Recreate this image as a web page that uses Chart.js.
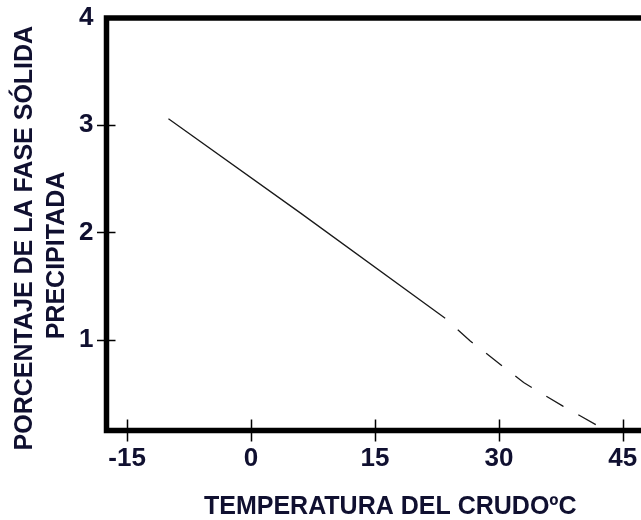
<!DOCTYPE html>
<html>
<head>
<meta charset="utf-8">
<script src="https://cdn.jsdelivr.net/npm/chart.js@4/dist/chart.umd.min.js"></script>
<style>
  html, body { margin: 0; padding: 0; background: #fff; overflow: hidden; }
  #wrap { width: 680px; height: 520px; }
</style>
</head>
<body>
<div id="wrap"><canvas id="c" width="680" height="520"></canvas></div>
<script>
// ---- data ----
const xTickValues = [-15, 0, 15, 30, 45];
const yTickValues = [1, 2, 3, 4];
const solidTemp = [-10, 6, 23.5];
const solidPct  = [3.06, 2.18, 1.20];
const dashTemp  = [23.5, 26.5, 33, 37.75, 42.5];
const dashPct   = [1.20, 0.99, 0.60, 0.38, 0.175];
const xAxisTitle = 'TEMPERATURA DEL CRUDOºC';
const yAxisTitle = ['PORCENTAJE DE LA FASE SÓLIDA    ', 'PRECIPITADA         '];

const TEXT = '#101030';
const FONT = "'Liberation Sans', Arial, Helvetica, sans-serif";

const toPts = (xs, ys) => xs.map((x, i) => ({ x: x, y: ys[i] }));

const frame = {
  id: 'frame',
  afterDatasetsDraw(chart) {
    const { ctx, chartArea: a, scales } = chart;
    ctx.save();
    ctx.strokeStyle = '#000';
    ctx.lineWidth = 5.5;
    ctx.lineCap = 'square';
    ctx.beginPath();
    ctx.moveTo(a.left, a.bottom);
    ctx.lineTo(a.left, a.top);
    ctx.lineTo(a.right, a.top);
    ctx.lineTo(a.right, a.bottom);
    ctx.closePath();
    ctx.stroke();
    // tick marks crossing the frame
    ctx.lineWidth = 1.5;
    ctx.lineCap = 'butt';
    ctx.beginPath();
    scales.x.ticks.forEach(t => {
      const px = Math.round(scales.x.getPixelForValue(t.value)) + 0.5;
      ctx.moveTo(px, a.bottom - 11);
      ctx.lineTo(px, a.bottom + 11);
    });
    scales.y.ticks.forEach(t => {
      if (t.value >= scales.y.max) return;
      const py = Math.round(scales.y.getPixelForValue(t.value)) + 0.5;
      ctx.moveTo(a.left - 9.5, py);
      ctx.lineTo(a.left + 9, py);
    });
    ctx.stroke();
    ctx.restore();
  }
};

new Chart(document.getElementById('c'), {
  type: 'scatter',
  data: {
    datasets: [
      {
        data: toPts(solidTemp, solidPct),
        showLine: true,
        borderColor: '#1a1a1a',
        borderWidth: 1.3,
        pointRadius: 0,
        tension: 0
      },
      {
        data: toPts(dashTemp, dashPct),
        showLine: true,
        borderColor: '#1a1a1a',
        borderWidth: 1.3,
        borderDash: [20, 17],
        borderDashOffset: 20,
        pointRadius: 0,
        tension: 0
      }
    ]
  },
  options: {
    responsive: false,
    animation: false,
    devicePixelRatio: 1,
    layout: { padding: { top: 18, left: 0, right: 6, bottom: 0 } },
    plugins: { legend: { display: false }, tooltip: { enabled: false } },
    scales: {
      x: {
        type: 'linear',
        min: -17.5,
        max: 51.2,
        afterBuildTicks: s => { s.ticks = xTickValues.map(v => ({ value: v })); },
        afterFit: s => { s.height = 89.5; s.paddingLeft = 0; s.paddingRight = 0; },
        grid: { display: false, drawTicks: false },
        border: { display: false },
        ticks: {
          padding: 13,
          color: TEXT,
          font: { family: FONT, size: 26, weight: 'bold' },
          maxRotation: 0,
          autoSkip: false
        },
        title: {
          display: true,
          text: xAxisTitle,
          color: TEXT,
          font: { family: FONT, size: 25, weight: 'bold', lineHeight: 1.04 },
          padding: { top: 0, bottom: 0 }
        }
      },
      y: {
        type: 'linear',
        min: 0.153,
        max: 4,
        afterBuildTicks: s => { s.ticks = yTickValues.map(v => ({ value: v })); },
        afterFit: s => { s.width = 106.5; s.paddingTop = 0; s.paddingBottom = 0; },
        grid: { display: false, drawTicks: false },
        border: { display: false },
        ticks: {
          padding: 13,
          color: TEXT,
          font: { family: FONT, size: 26, weight: 'bold' },
          autoSkip: false
        },
        title: {
          display: true,
          text: yAxisTitle,
          color: TEXT,
          font: { family: FONT, size: 25, weight: 'bold', lineHeight: 1.28 },
          padding: { top: 9, bottom: 0 }
        }
      }
    }
  },
  plugins: [frame]
});
</script>
</body>
</html>
